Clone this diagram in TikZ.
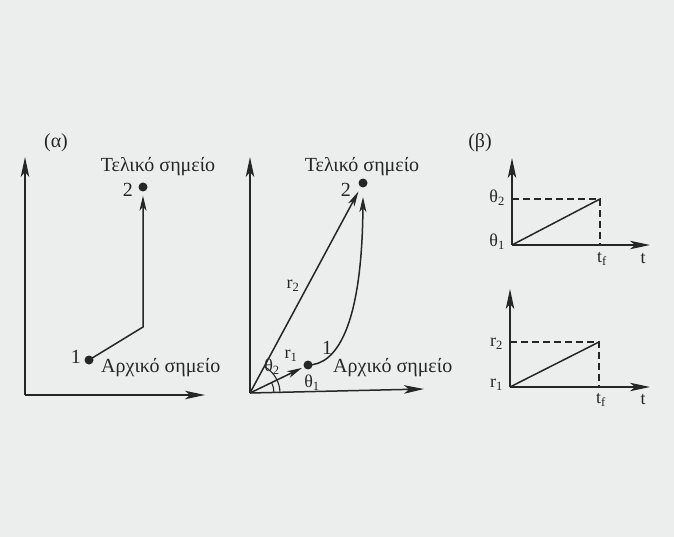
\documentclass[tikz,border=0pt]{standalone}
\usepackage{fontspec}
\setmainfont{Liberation Serif}
\usetikzlibrary{arrows.meta}
\definecolor{bg}{RGB}{236,238,237}
\definecolor{ink}{RGB}{38,38,38}
\begin{document}
\begin{tikzpicture}[x=1pt,y=1pt,
  axis/.style={draw=ink, line width=1.5pt, -{Stealth[length=20pt,width=8.5pt,inset=5pt]}},
  vec/.style={draw=ink, line width=1.5pt, -{Stealth[length=15pt,width=7pt,inset=4pt]}},
  plain/.style={draw=ink, line width=1.5pt},
  thin/.style={draw=ink, line width=1.1pt},
  dashln/.style={draw=ink, line width=1.5pt, dash pattern=on 7pt off 4pt},
  dot/.style={circle, fill=ink, inner sep=0pt, minimum size=9pt},
  lbl/.style={font=\fontsize{20}{22}\selectfont, text=ink, inner sep=1pt},
  slbl/.style={font=\fontsize{18}{20}\selectfont, text=ink, inner sep=1pt}]
\fill[bg] (0,0) rectangle (674,-537);
\useasboundingbox (0,0) rectangle (674,-537);

% ---------- panel (a), left ----------
\node[lbl] (alpha) at (56,-143) {(α)};
\coordinate (Ao) at (25,-395);
\coordinate (Ay) at (25,-157);
\coordinate (Ax) at (205,-395);
\draw[axis] (Ao) -- (Ay);
\draw[axis] (Ao) -- (Ax);
\node[dot] (A1) at (89,-360) {};
\node[dot] (A2) at (143,-187) {};
\coordinate (Ab) at (143,-327);
\draw[vec, shorten >=4pt] (A1.center) -- (Ab) -- (A2);
\node[lbl, anchor=east] (A1l) at (82,-357) {1};
\node[lbl, anchor=west] (A1t) at (100,-368) {Αρχικό σημείο};
\node[lbl, anchor=east] (A2l) at (134,-190) {2};
\node[lbl] (A2t) at (158,-167) {Τελικό σημείο};

% ---------- panel (a), middle ----------
\coordinate (Bo) at (250,-393);
\coordinate (By) at (250,-157);
\coordinate (Bx) at (424,-389);
\draw[axis] (Bo) -- (By);
\draw[axis] (Bo) -- (Bx);
\node[dot] (B1) at (308,-365) {};
\node[dot] (B2) at (363,-183) {};
\coordinate (B2a) at (363,-197);
\draw[vec, shorten >=2pt] (Bo) -- (B1);
\draw[vec, shorten >=5pt] (Bo) -- (B2);
\draw[vec] (B1.center) .. controls (335,-365) and (362,-330) .. (B2a);
\draw[thin] ([shift={(24,0)}]Bo) arc[start angle=0, end angle=25.8, radius=24];
\draw[thin] ([shift={(30,0)}]Bo) arc[start angle=0, end angle=61.7, radius=30];
\node[slbl] (r2l) at (293,-286) {r\textsubscript{2}};
\node[slbl] (r1l) at (291,-356) {r\textsubscript{1}};
\node[lbl] (B1l) at (327,-348) {1};
\node[slbl] (th2) at (272,-367) {θ\textsubscript{2}};
\node[slbl] (th1) at (312,-383) {θ\textsubscript{1}};
\node[lbl, anchor=west] (B1t) at (332,-368) {Αρχικό σημείο};
\node[lbl, anchor=east] (B2l) at (352,-190) {2};
\node[lbl] (B2t) at (362,-167) {Τελικό σημείο};

% ---------- panel (b), right ----------
\node[lbl] (beta) at (480,-143) {(β)};
% theta(t)
\coordinate (Co) at (512,-245);
\coordinate (Cy) at (512,-158);
\coordinate (Cx) at (650,-245);
\coordinate (Ct) at (600,-199);
\coordinate (Cty) at (512,-199);
\coordinate (Ctx) at (600,-245);
\draw[axis] (Co) -- (Cy);
\draw[axis] (Co) -- (Cx);
\draw[plain] (Co) -- (Ct);
\draw[dashln] (Cty) -- (Ct) -- (Ctx);
\node[slbl, anchor=east] (Cth2) at (506,-198) {θ\textsubscript{2}};
\node[slbl, anchor=east] (Cth1) at (506,-242) {θ\textsubscript{1}};
\node[slbl] (Ctf) at (602,-259) {t\textsubscript{f}};
\node[slbl] (Ctl) at (643,-259) {t};
% r(t)
\coordinate (Do) at (510,-387);
\coordinate (Dy) at (510,-289);
\coordinate (Dx) at (650,-387);
\coordinate (Dt) at (599,-342);
\coordinate (Dty) at (510,-342);
\coordinate (Dtx) at (599,-387);
\draw[axis] (Do) -- (Dy);
\draw[axis] (Do) -- (Dx);
\draw[plain] (Do) -- (Dt);
\draw[dashln] (Dty) -- (Dt) -- (Dtx);
\node[slbl, anchor=east] (Dr2) at (504,-344) {r\textsubscript{2}};
\node[slbl, anchor=east] (Dr1) at (504,-385) {r\textsubscript{1}};
\node[slbl] (Dtf) at (601,-400) {t\textsubscript{f}};
\node[slbl] (Dtl) at (643,-400) {t};
\end{tikzpicture}
\end{document}
